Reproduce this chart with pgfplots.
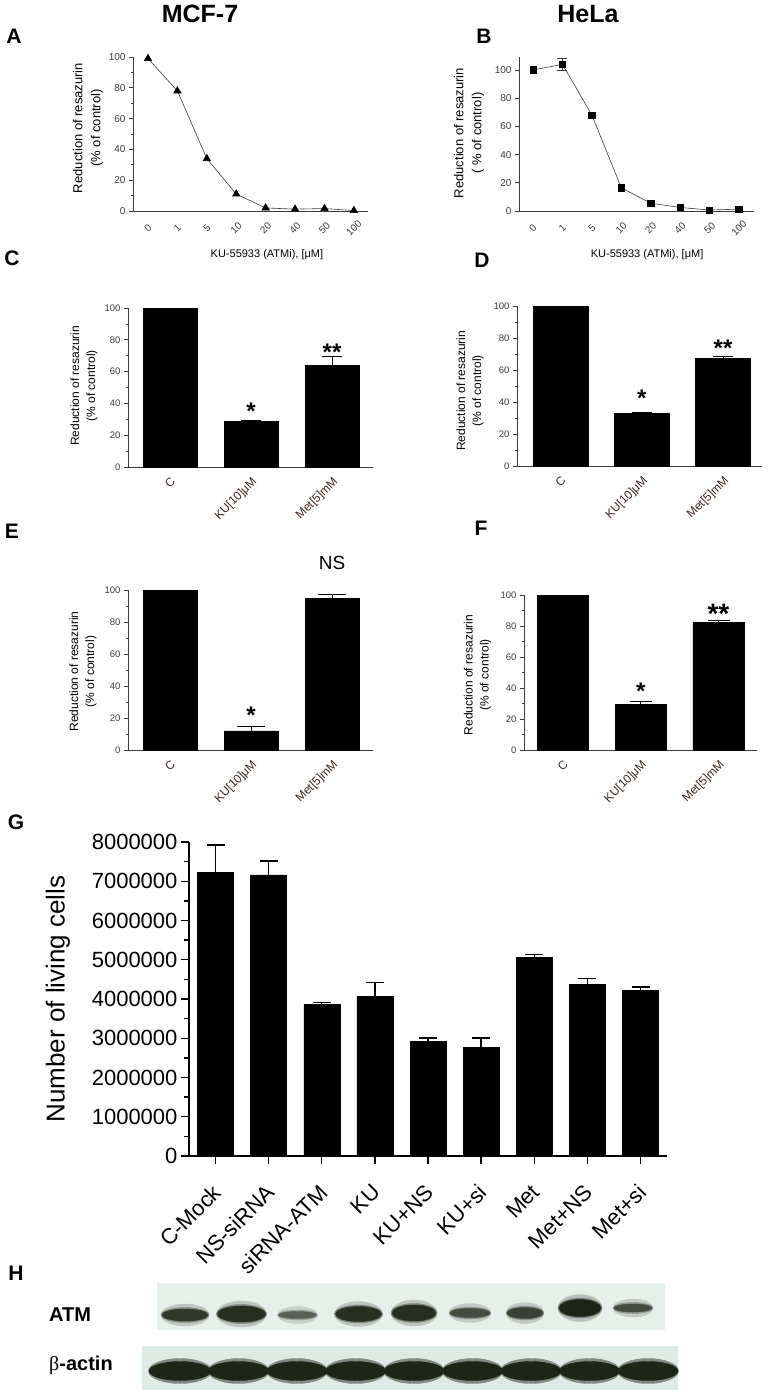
\documentclass[border=0pt]{standalone}
\usepackage{pgfplots}
\pgfplotsset{compat=1.18}
\usepackage{pgfplotstable}
\usepackage{fontspec}
\setmainfont{Liberation Sans}
\newfontfamily\greekserif{Liberation Serif}
\definecolor{axgray}{HTML}{3C3C3C}
\definecolor{lblbrown}{HTML}{3D2A22}
\definecolor{blotbg}{HTML}{E6F0EB}
\definecolor{blotbgb}{HTML}{DEEAE4}
\definecolor{blotdark}{HTML}{1B2616}

\pgfplotstableread{
x y rx ry d
185 -1315 23 6 0.9
241.5 -1314 24 8 0.95
297.5 -1315 19 3.5 0.7
358.5 -1314 23 7.5 0.95
414 -1313 22 8 0.95
470 -1313 20 4.5 0.8
525 -1313 18 5.5 0.85
580 -1308 21 8.5 1.0
633 -1308 19 4 0.8
}\atmbands
\pgfplotstableread{
x y rx ry d
180 -1371 31 9.5 1.0
238.5 -1371 30 9.5 1.0
297 -1371 30 9.5 1.0
355.5 -1371 30 9.5 1.0
414 -1371 30 9.5 1.0
472.5 -1371 30 9.5 1.0
531 -1371 30 9.5 1.0
589.5 -1371 30 9.5 1.0
648 -1371 30 9.5 1.0
}\actbands

\tikzset{star/.style={font=\bfseries\fontsize{24}{28}\selectfont, anchor=base}}
\pgfplotsset{
  base/.style={scale only axis, axis lines*=left, clip=false,
    axis line style={line width=0.8pt, draw=axgray},
    tick align=outside, major tick length=4pt, minor tick length=2.5pt,
    tick style={line width=0.8pt, draw=axgray},
    major x tick style={draw=none},
    /pgf/number format/assume math mode=true,
    ymin=0},
  dose/.style={base, width=235pt, height=154pt,
    xtick={0,...,7}, xticklabels={0,1,5,10,20,40,50,100},
    ytick={0,20,...,100},
    ticklabel style={font=\fontsize{10}{12}\selectfont, text=axgray},
    xticklabel style={yshift=-13pt, rotate=45, anchor=center},
    xlabel={KU-55933 (ATMi), [μM]},
    xlabel style={font=\fontsize{11}{13}\selectfont, anchor=center, yshift=-44pt},
    ylabel style={font=\fontsize{13}{18}\selectfont, align=center, anchor=center}},
  bars/.style={base, ybar, ymax=100, xtick={0,1,2},
    xticklabels={{C},{KU[10]μM},{Met[5]mM}},
    ytick={0,20,...,100}, minor y tick num=1,
    yticklabel style={font=\fontsize{9.5}{11}\selectfont, text=axgray},
    xticklabel style={rotate=45, anchor=north east, font=\fontsize{12}{14}\selectfont, text=lblbrown},
    ylabel={Reduction of resazurin\\(\% of control)},
    ylabel style={font=\fontsize{12}{16}\selectfont, align=center, anchor=center}},
  errs/.style={error bars/.cd, y dir=plus, y explicit,
    error bar style={line width=1pt, draw=black},
    error mark options={rotate=90, mark size=#1, line width=1pt, draw=black}},
  blotmarks/.style={scatter, only marks, mark=*,
    scatter/use mapped color={draw=mapped color, fill=mapped color},
    scatter/@pre marker code/.append style={/tikz/mark size=\ry pt, /tikz/xscale=\sx}},
}

\begin{document}
\begin{tikzpicture}
\path[use as bounding box] (0pt,0pt) rectangle (768pt,-1395pt);

% ---------- A ----------
\begin{axis}[dose, at={(133pt,-211pt)}, anchor=south west,
  xmin=-0.51, xmax=7.48, ymax=100, minor y tick num=1,
  ylabel={Reduction of resazurin\\(\% of control)},
  ylabel style={at={(axis description cs:-0.191,0.539)}},
  xlabel style={at={(axis description cs:0.57,0)}}]
\addplot[color=axgray, line width=0.6pt, mark=triangle*, mark size=4.2pt,
  mark options={fill=black, draw=black, solid}]
  coordinates {(0,99) (1,78) (2,34) (3,11) (4,2) (5,1.2) (6,1.6) (7,0.3)};
\end{axis}

% ---------- B ----------
\begin{axis}[dose, at={(519pt,-211pt)}, anchor=south west,
  xmin=-0.476, xmax=7.51, ymax=109.2,
  ylabel={Reduction of resazurin\\( \% of control)},
  ylabel style={at={(axis description cs:-0.213,0.506)}},
  xlabel style={at={(axis description cs:0.545,0)}}]
\addplot[draw=none, mark=none, forget plot, error bars/.cd, y dir=both, y explicit,
  error bar style={line width=0.7pt, draw=axgray},
  error mark options={rotate=90, mark size=5pt, line width=0.7pt, draw=axgray}]
  coordinates {(1,104) +- (0,4)};
\addplot[color=axgray, line width=0.6pt, mark=square*, mark size=3.2pt,
  mark options={fill=black, draw=black, solid}]
  coordinates {(0,100) (1,104) (2,68) (3,16.5) (4,5.5) (5,2.5) (6,0.7) (7,1.3)};
\end{axis}

% ---------- C ----------
\begin{axis}[bars, bar width=54pt, at={(128pt,-467pt)}, anchor=south west,
  width=245pt, height=159pt, xmin=-0.519, xmax=2.506,
  ylabel style={at={(axis description cs:-0.18,0.51)}}]
\addplot[fill=black, draw=black, errs=10pt]
  coordinates {(0,100) +- (0,0) (1,28.5) +- (0,0.7) (2,64) +- (0,5.5)};
\node[star] at (axis cs:1,29.6) {*};
\node[star] at (axis cs:2,67.3) {**};
\end{axis}

% ---------- D ----------
\begin{axis}[bars, bar width=55pt, at={(517pt,-466pt)}, anchor=south west,
  width=245pt, height=160pt, xmin=-0.536, xmax=2.48,
  ylabel style={at={(axis description cs:-0.192,0.47)}}]
\addplot[fill=black, draw=black, errs=10pt]
  coordinates {(0,100) +- (0,0) (1,33) +- (0,0.4) (2,67.5) +- (0,0.7)};
\node[star] at (axis cs:1,37.5) {*};
\node[star] at (axis cs:2,68.75) {**};
\end{axis}

% ---------- E ----------
\begin{axis}[bars, bar width=54pt, at={(128pt,-750pt)}, anchor=south west,
  width=245pt, height=160pt, xmin=-0.519, xmax=2.506,
  ylabel style={at={(axis description cs:-0.184,0.49)}}]
\addplot[fill=black, draw=black, errs=14pt]
  coordinates {(0,100) +- (0,0) (1,12) +- (0,2.5) (2,95) +- (0,2.5)};
\node[star] at (axis cs:1,16.3) {*};
\node[font=\fontsize{19}{22}\selectfont, anchor=center] at (axis cs:2,116.9) {NS};
\end{axis}

% ---------- F ----------
\begin{axis}[bars, bar width=51pt, at={(524pt,-750pt)}, anchor=south west,
  width=233pt, height=155pt, xmin=-0.5, xmax=2.495,
  ylabel style={at={(axis description cs:-0.2,0.484)}}]
\addplot[fill=black, draw=black, errs=11pt]
  coordinates {(0,100) +- (0,0) (1,29.5) +- (0,2) (2,82.5) +- (0,1)};
\node[star] at (axis cs:1,32.9) {*};
\node[star, font=\bfseries\fontsize{28}{32}\selectfont] at (axis cs:2,81.9) {**};
\end{axis}

% ---------- G ----------
\begin{axis}[scale only axis, axis lines*=left, clip=false, ybar, bar width=36pt,
  at={(189pt,-1156pt)}, anchor=south west, width=478pt, height=314pt,
  xmin=-0.499, xmax=8.499, ymin=0, ymax=8000000,
  axis line style={line width=1.3pt}, tick align=outside,
  major tick length=8pt, minor tick length=4.5pt,
  tick style={line width=1.3pt, black},
  xtick={0,...,8},
  xticklabels={C-Mock,NS-siRNA,siRNA-ATM,KU,KU+NS,KU+si,Met,Met+NS,Met+si},
  xticklabel style={xshift=-4pt, yshift=-14pt, rotate=45, anchor=north east, font=\fontsize{22}{26}\selectfont},
  ytick={0,1000000,2000000,3000000,4000000,5000000,6000000,7000000,8000000},
  yticklabels={0,1000000,2000000,3000000,4000000,5000000,6000000,7000000,8000000},
  minor y tick num=1, scaled y ticks=false,
  yticklabel style={font=\fontsize{22}{26}\selectfont},
  ylabel={Number of living cells},
  ylabel style={at={(axis description cs:-0.274,0.5)}, anchor=center, font=\fontsize{26}{30}\selectfont}]
\addplot[fill=black, draw=black, error bars/.cd, y dir=plus, y explicit,
  error bar style={line width=1.4pt, draw=black},
  error mark options={rotate=90, mark size=9pt, line width=1.4pt, draw=black}]
  coordinates {(0,7220000) +- (0,700000) (1,7160000) +- (0,360000)
  (2,3860000) +- (0,50000) (3,4060000) +- (0,360000) (4,2920000) +- (0,90000)
  (5,2770000) +- (0,240000) (6,5070000) +- (0,60000) (7,4370000) +- (0,150000)
  (8,4220000) +- (0,90000)};
\end{axis}

% ---------- H (blot) ----------
\begin{axis}[at={(0pt,0pt)}, anchor=north west, scale only axis, width=768pt, height=1395pt,
  xmin=0, xmax=768, ymin=-1395, ymax=0, hide axis, clip=false,
  colormap={blot}{color=(blotbg) color=(blotdark)}, point meta min=0, point meta max=1]
\addplot[fill=blotbg, draw=none] coordinates {(157,-1283) (665,-1283) (665,-1330) (157,-1330)} -- cycle;
\addplot[fill=blotbgb, draw=none] coordinates {(142,-1346) (678,-1346) (678,-1390) (142,-1390)} -- cycle;
\addplot[blotmarks, point meta={0.22*\thisrow{d}},
  visualization depends on={\thisrow{ry}+5 \as \ry},
  visualization depends on={(\thisrow{rx}+1)/(\thisrow{ry}+5) \as \sx}]
  table {\atmbands};
\addplot[blotmarks, point meta={0.55*\thisrow{d}},
  visualization depends on={\thisrow{ry}+1.5 \as \ry},
  visualization depends on={(\thisrow{rx}+1)/(\thisrow{ry}+1.5) \as \sx}]
  table {\atmbands};
\addplot[blotmarks, point meta={\thisrow{d}},
  visualization depends on={\thisrow{ry} \as \ry},
  visualization depends on={\thisrow{rx}/\thisrow{ry} \as \sx}]
  table {\atmbands};
\addplot[blotmarks, point meta={0.5*\thisrow{d}},
  visualization depends on={\thisrow{ry}+3 \as \ry},
  visualization depends on={(\thisrow{rx}+0.5)/(\thisrow{ry}+3) \as \sx}]
  table {\actbands};
\addplot[blotmarks, point meta={\thisrow{d}},
  visualization depends on={\thisrow{ry} \as \ry},
  visualization depends on={\thisrow{rx}/\thisrow{ry} \as \sx}]
  table {\actbands};
\end{axis}

% ---------- titles and panel letters ----------
\node[font=\bfseries\fontsize{25}{30}\selectfont] at (200pt,-14pt) {MCF-7};
\node[font=\bfseries\fontsize{25}{30}\selectfont] at (588pt,-14pt) {HeLa};
\node[font=\bfseries\fontsize{21}{25}\selectfont] at (14pt,-36pt) {A};
\node[font=\bfseries\fontsize{21}{25}\selectfont] at (484pt,-36pt) {B};
\node[font=\bfseries\fontsize{21}{25}\selectfont] at (12pt,-258pt) {C};
\node[font=\bfseries\fontsize{21}{25}\selectfont] at (482pt,-260pt) {D};
\node[font=\bfseries\fontsize{21}{25}\selectfont] at (12pt,-531pt) {E};
\node[font=\bfseries\fontsize{21}{25}\selectfont] at (481pt,-528pt) {F};
\node[font=\bfseries\fontsize{21}{25}\selectfont] at (16pt,-822pt) {G};
\node[font=\bfseries\fontsize{21}{25}\selectfont] at (16pt,-1273pt) {H};
\node[font=\bfseries\fontsize{20}{24}\selectfont] at (70pt,-1315pt) {ATM};
\node[font=\bfseries\fontsize{20}{24}\selectfont] at (81pt,-1365pt) {{\greekserif\mdseries β}-actin};
\end{tikzpicture}
\end{document}
